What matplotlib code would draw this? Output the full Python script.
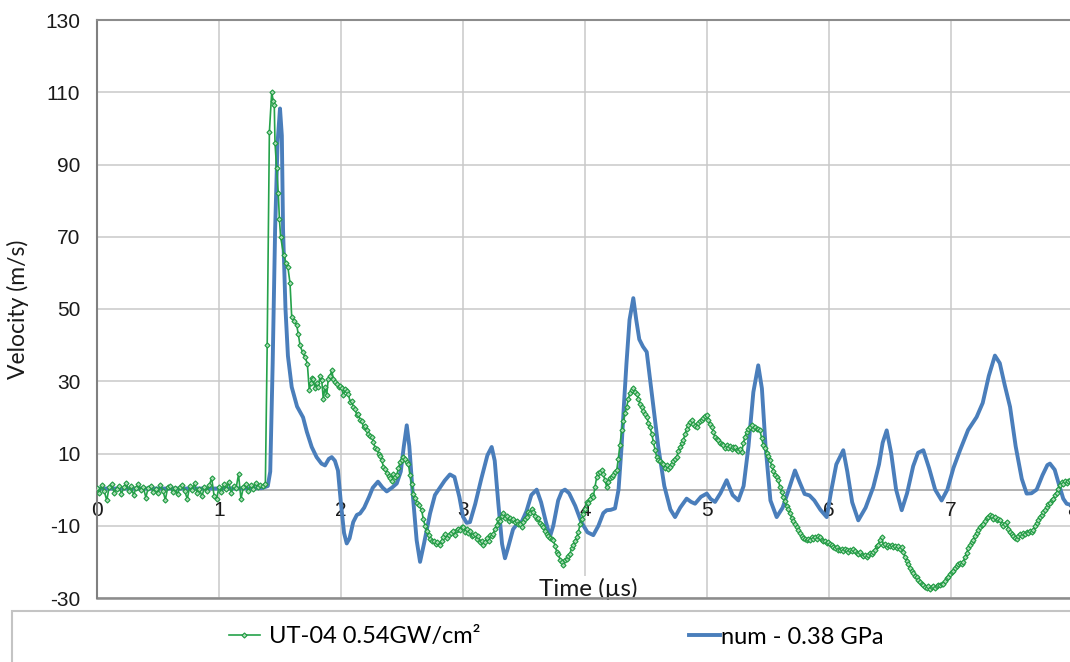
import matplotlib.pyplot as plt
from matplotlib.patches import Rectangle
from matplotlib.lines import Line2D

# experiment UT-04 (green, dense markers)
green_t = [0.00, 0.02, 0.04, 0.06, 0.08, 0.10, 0.12, 0.14, 0.16, 0.18, 0.20, 0.22, 0.24, 0.26, 0.28, 0.30,
           0.32, 0.34, 0.36, 0.38, 0.40, 0.42, 0.44, 0.46, 0.48, 0.50, 0.52, 0.54, 0.56, 0.58, 0.60, 0.62,
           0.64, 0.66, 0.68, 0.70, 0.72, 0.74, 0.76, 0.78, 0.80, 0.82, 0.84, 0.86, 0.88, 0.90, 0.92, 0.94,
           0.96, 0.98, 1.00, 1.02, 1.04, 1.06, 1.08, 1.10, 1.12, 1.14, 1.16, 1.18, 1.20, 1.22, 1.24, 1.26,
           1.28, 1.30, 1.32, 1.34, 1.36, 1.38,
           1.395, 1.413, 1.432, 1.445, 1.453, 1.459, 1.472, 1.486, 1.495, 1.505, 1.53, 1.549, 1.565, 1.582,
           1.596, 1.615, 1.637, 1.65, 1.664, 1.685, 1.705, 1.724, 1.74, 1.752, 1.763, 1.773, 1.785, 1.80,
           1.814, 1.828, 1.842, 1.855, 1.868, 1.883, 1.895, 1.91, 1.924, 1.938, 1.951, 1.965, 1.98, 1.995,
           2.006, 2.02, 2.035, 2.048, 2.06, 2.075, 2.088, 2.10, 2.115, 2.13, 2.143, 2.156, 2.17, 2.185,
           2.20, 2.21, 2.225, 2.24, 2.253, 2.265, 2.28, 2.295, 2.31, 2.322, 2.333, 2.348, 2.362, 2.375,
           2.39, 2.402, 2.415, 2.43, 2.445, 2.457, 2.47, 2.485, 2.498, 2.511, 2.525, 2.54, 2.552, 2.565,
           2.578, 2.593, 2.61, 2.625, 2.64, 2.661, 2.675, 2.69, 2.705, 2.718, 2.73, 2.745, 2.76, 2.775,
           2.79, 2.811, 2.826, 2.84, 2.855, 2.87, 2.885, 2.90, 2.915, 2.932, 2.948, 2.962, 2.975, 2.99,
           3.003, 3.018, 3.032, 3.045, 3.058, 3.071, 3.084, 3.10, 3.112, 3.125, 3.14, 3.153, 3.166, 3.18,
           3.195, 3.21, 3.225, 3.235, 3.248, 3.262, 3.276, 3.29, 3.305, 3.318, 3.33, 3.345, 3.36, 3.373,
           3.386, 3.40, 3.412, 3.426, 3.44, 3.453, 3.466, 3.48, 3.495, 3.508, 3.522, 3.536, 3.55, 3.563,
           3.576, 3.59, 3.603, 3.617, 3.63, 3.645, 3.658, 3.672, 3.686, 3.70, 3.713, 3.727, 3.74, 3.755,
           3.768, 3.782, 3.795, 3.808, 3.822, 3.836, 3.85, 3.863, 3.877, 3.89, 3.904, 3.918, 3.932, 3.945,
           3.96, 3.973, 3.986, 4.00, 4.014, 4.028, 4.041, 4.055, 4.068, 4.082, 4.096, 4.11, 4.123, 4.137,
           4.15, 4.164, 4.178, 4.19, 4.205, 4.219, 4.232, 4.246, 4.26, 4.273, 4.287, 4.301, 4.315, 4.328,
           4.342, 4.355, 4.37, 4.383, 4.397, 4.41, 4.424, 4.438, 4.452, 4.465, 4.479, 4.492, 4.506, 4.52,
           4.533, 4.547, 4.56, 4.574, 4.588, 4.602, 4.615, 4.628, 4.642, 4.656, 4.67, 4.683, 4.697, 4.71,
           4.724, 4.737, 4.751, 4.765, 4.779, 4.792, 4.806, 4.82, 4.833, 4.847, 4.861, 4.875, 4.888, 4.902,
           4.915, 4.929, 4.943, 4.957, 4.97, 4.984, 4.998, 5.012, 5.025, 5.039, 5.052, 5.066, 5.08, 5.093,
           5.107, 5.12, 5.134, 5.148, 5.161, 5.175, 5.189, 5.203, 5.216, 5.23, 5.243, 5.257, 5.27, 5.284,
           5.298, 5.311, 5.325, 5.338, 5.352, 5.366, 5.38, 5.393, 5.407, 5.42, 5.434, 5.448, 5.461, 5.475,
           5.489, 5.502, 5.516, 5.53, 5.543, 5.557, 5.57, 5.584, 5.598, 5.612, 5.625, 5.639, 5.653, 5.666,
           5.68, 5.694, 5.707, 5.721, 5.735, 5.749, 5.762, 5.776, 5.79, 5.803, 5.817, 5.831, 5.844, 5.858,
           5.872, 5.885, 5.899, 5.912, 5.926, 5.94, 5.953, 5.967, 5.981, 5.994, 6.008, 6.022, 6.035, 6.049,
           6.062, 6.076, 6.09, 6.104, 6.117, 6.131, 6.145, 6.158, 6.172, 6.185, 6.199, 6.213, 6.226, 6.24,
           6.254, 6.268, 6.281, 6.295, 6.309, 6.322, 6.336, 6.35, 6.363, 6.377, 6.39, 6.404, 6.418, 6.432,
           6.446, 6.46, 6.473, 6.487, 6.50, 6.514, 6.528, 6.541, 6.555, 6.568, 6.582, 6.596, 6.61, 6.623,
           6.637, 6.65, 6.664, 6.678, 6.692, 6.705, 6.719, 6.733, 6.746, 6.76, 6.774, 6.787, 6.801, 6.815,
           6.828, 6.842, 6.855, 6.869, 6.883, 6.896, 6.91, 6.924, 6.937, 6.951, 6.965, 6.978, 6.992, 7.005,
           7.019, 7.033, 7.046, 7.06, 7.074, 7.087, 7.101, 7.115, 7.128, 7.142, 7.156, 7.169, 7.183, 7.197,
           7.21, 7.224, 7.238, 7.251, 7.265, 7.279, 7.292, 7.306, 7.32, 7.333, 7.347, 7.36, 7.374, 7.388,
           7.402, 7.415, 7.429, 7.443, 7.457, 7.47, 7.484, 7.497, 7.511, 7.525, 7.539, 7.552, 7.566, 7.58,
           7.593, 7.607, 7.62, 7.634, 7.648, 7.661, 7.675, 7.689, 7.702, 7.716, 7.73, 7.743, 7.757, 7.77,
           7.784, 7.798, 7.811, 7.825, 7.839, 7.852, 7.866, 7.88, 7.893, 7.907, 7.92, 7.934, 7.948, 7.962,
           7.975, 7.99]
green_v = [0.5, -1.0, 1.2, -0.5, -3.0, 0.8, 1.5, -0.8, 0.3, 1.0, -1.2, 0.6, 1.8, -0.4, 0.9, -1.5,
           0.4, 1.6, -0.2, 0.7, -2.2, 0.5, 1.1, -0.6, 0.2, -0.9, 1.3, -0.3, -2.8, 0.6, 1.0, -0.7,
           0.4, -1.3, 0.8, 1.4, -0.5, -2.6, 0.9, -0.2, 1.7, -0.8, 0.3, -1.9, 0.6, -0.4, 1.2, 3.2,
           -1.8, -2.5, 0.7, -0.6, 1.5, 0.2, 2.0, -0.9, 1.1, 0.4, 4.2, -2.6, 0.8, 1.6, -0.5, 1.2,
           0.3, 1.9, 0.6, 1.4, 0.9, 1.5,
           40, 99, 110, 107.5, 106.5, 96, 89, 82, 75, 70, 65, 62.8, 61.5, 57.2,
           47.8, 46.8, 45.5, 43, 40, 38, 36.7, 34.9, 27.5, 29.5, 31, 30.7, 28.2, 29.4,
           28.4, 31.5, 30.3, 25, 28.3, 26.1, 30.5, 31.4, 33.0, 30.5, 29.8, 29.2, 28.4, 28.8,
           28, 26.2, 27.9, 27.2, 26.6, 24.2, 24.5, 22.9, 22.2, 20.6, 21, 19.2, 18.9, 17.2,
           17.5, 16.4, 15.4, 14.8, 14.6, 13.2, 11.5, 11.2, 9.8, 9.2, 8.1, 6.4, 5.8, 4.7,
           3.8, 3.1, 2.5, 4.3, 3.6, 4, 5.9, 7.6, 8.2, 9.0, 8.4, 7.6, 7.2, 4.1,
           1.6, -1.1, -2.4, -3.6, -4.3, -5.7, -8.2, -10.1, -11.4, -12.6, -13.6, -14.2, -14.1, -15.0,
           -14.6, -15.4, -14.2, -13.1, -12.4, -13.5, -12.6, -12.1, -11.4, -12.5, -11.3, -10.8, -11.2, -10.4,
           -10.3, -11.6, -10.8, -11.9, -11.5, -12.9, -12.6, -12.2, -13.6, -12.8, -14.5, -14.1, -15.4, -14.6,
           -13.4, -14.1, -12.6, -12.9, -12.2, -10.8, -9.7, -8.1, -8.8, -7.2, -6.6, -7.8, -7.3, -8.6,
           -7.9, -8.4, -8.0, -9.1, -8.7, -9.6, -9.4, -10.3, -9.1, -8.2, -7.6, -6.1, -6.6, -5.3,
           -6.2, -7.4, -8.1, -7.8, -9.2, -9.7, -10.3, -11.4, -12.2, -12.8, -13.3, -13.6, -14, -15.6,
           -17.2, -17.8, -19.4, -20.1, -21, -19.6, -19.1, -18.3, -17.7, -16.2, -15.4, -14.1, -13.2, -11.7,
           -9.6, -8.1, -6.8, -5.4, -3.4, -3.8, -2.6, -1.4, -2.0, 0.8, 3.5, 4.6, 4.9, 5.3,
           4.2, 2.6, 0.7, 2.2, 3.2, 3.5, 4.1, 4.8, 5.3, 8.6, 12.4, 16.4, 19.1, 21.2,
           22.9, 25.2, 26.8, 27.5, 28.0, 27.1, 26.6, 25.1, 23.8, 22.9, 21.8, 20.9, 20.1, 18.4,
           17.2, 15.5, 13.2, 11.1, 9.0, 8.3, 7.9, 7.4, 7.2, 6.1, 6.8, 5.7, 6.3, 7.1,
           7.8, 8.4, 9, 10.6, 11.9, 12.8, 13.7, 15.4, 16.8, 17.9, 18.7, 19.2, 18.1, 17.6,
           17.3, 18.4, 18.9, 19.3, 19.8, 20.3, 20.6, 19.4, 18.2, 17.4, 15.9, 14.6, 14.1, 13.6,
           12.9, 12.6, 12.3, 11.6, 12.3, 11.4, 12.1, 11.2, 11.9, 11.8, 11.1, 10.7, 11.3, 10.4,
           12.8, 14.6, 15.9, 16.8, 17.4, 17.8, 16.9, 17.3, 16.7, 16.9, 16.4, 14.2, 12.4, 11.6,
           10.2, 9.3, 8.1, 6.6, 5.2, 4.1, 3.4, 2.6, 0.7, -0.6, -2.1, -3.2, -4.6, -5.3,
           -6.6, -7.8, -8.7, -9.5, -10.3, -11.2, -12.1, -12.8, -13.3, -13.8, -14, -13.6, -13.9, -13.2,
           -13.7, -13.0, -13.6, -12.8, -13.1, -13.9, -14.3, -14.1, -14.7, -14.5, -15, -15.4, -15.9, -16.2,
           -16.0, -16.6, -16.8, -16.4, -16.9, -16.3, -16.7, -17.2, -16.6, -16.9, -16.3, -17.1, -17.5, -17.8,
           -17.4, -18.1, -18.4, -18.2, -18.7, -18.0, -17.6, -17.9, -17.3, -16.8, -15.6, -15.2, -13.9, -13.1,
           -15.4, -15.1, -15.9, -15.3, -15.7, -15.2, -15.8, -15.5, -16.1, -15.6, -16.3, -15.9, -17.4, -18.6,
           -19.8, -20.5, -21.6, -22.4, -23.1, -23.8, -24.2, -25.1, -25.6, -26.2, -26.5, -26.9, -27.1, -26.8,
           -27.4, -27.0, -26.6, -27.1, -26.7, -26.3, -26.4, -26.1, -26, -25.2, -24.6, -24.1, -23.4, -22.9,
           -22.4, -21.8, -21.1, -20.7, -20.4, -20.6, -20, -18.6, -17.5, -16.2, -15.3, -14.6, -14, -12.8,
           -11.9, -11.2, -10.4, -9.9, -9.4, -8.6, -7.8, -7.6, -7.1, -7.4, -8.2, -7.7, -8.4, -8.1,
           -8.5, -9.6, -10.2, -9.5, -9, -10.8, -11.6, -12.4, -12.9, -13.3, -13.6, -12.9, -12.4, -12.7,
           -11.9, -12.2, -11.7, -11.9, -11.4, -11.6, -11.3, -10.1, -9.2, -8.4, -7.6, -6.9, -6.2, -5.6,
           -4.9, -4.1, -3.6, -3.0, -2.5, -1.6, -0.8, 0.3, 1.2, 2.1, 1.6, 2.4, 1.9, 2.5,
           2.6, 2.2]

# simulation (blue)
num_t = [0, 0.5, 1.0, 1.35, 1.40, 1.42, 1.44, 1.46, 1.48, 1.50, 1.515, 1.525, 1.545, 1.565, 1.596,
         1.64, 1.689, 1.72, 1.76, 1.80, 1.84, 1.869, 1.90, 1.924, 1.95, 1.975, 2.00, 2.025, 2.047,
         2.07, 2.10, 2.13, 2.156, 2.19, 2.23, 2.26, 2.303, 2.34, 2.375, 2.42, 2.457, 2.49, 2.515,
         2.539, 2.56, 2.59, 2.62, 2.648, 2.68, 2.73, 2.77, 2.81, 2.85, 2.893, 2.93, 2.97, 3.00,
         3.03, 3.057, 3.10, 3.15, 3.20, 3.235, 3.26, 3.29, 3.32, 3.344, 3.37, 3.41, 3.45, 3.48,
         3.52, 3.56, 3.604, 3.64, 3.68, 3.713, 3.74, 3.78, 3.81, 3.836, 3.87, 3.92, 3.97, 4.02,
         4.068, 4.11, 4.15, 4.178, 4.21, 4.246, 4.275, 4.30, 4.32, 4.34, 4.365, 4.396, 4.42, 4.445,
         4.475, 4.506, 4.55, 4.60, 4.65, 4.70, 4.738, 4.78, 4.833, 4.87, 4.902, 4.95, 4.998, 5.03,
         5.066, 5.11, 5.161, 5.21, 5.257, 5.30, 5.34, 5.38, 5.42, 5.45, 5.48, 5.52, 5.571, 5.62,
         5.67, 5.721, 5.76, 5.80, 5.84, 5.88, 5.93, 5.981, 6.02, 6.06, 6.117, 6.15, 6.19, 6.24,
         6.30, 6.363, 6.41, 6.44, 6.473, 6.51, 6.55, 6.596, 6.64, 6.69, 6.73, 6.773, 6.82, 6.87,
         6.923, 6.97, 7.02, 7.074, 7.14, 7.21, 7.26, 7.31, 7.36, 7.40, 7.44, 7.484, 7.53, 7.58,
         7.62, 7.66, 7.702, 7.75, 7.79, 7.811, 7.85, 7.88, 7.92, 7.948, 7.99]
num_v = [0.3, 0.3, 0.3, 0.4, 1.0, 5, 35, 72, 96, 105.5, 98, 72, 50, 37, 28.4,
         23, 20, 16, 11.8, 9, 7.2, 6.7, 8.5, 9.0, 8, 5.3, -4, -12, -14.9,
         -13.5, -9, -7, -6.6, -5, -2, 0.5, 2.2, 0.6, -0.5, 0.6, 1.7, 5, 12,
         17.8, 12, -2, -14, -20, -15, -6.6, -1.5, 0.5, 2.5, 4.2, 3.5, -2, -7.5,
         -9.2, -9.0, -4, 3, 9.5, 11.8, 8, -4, -15, -19, -16, -11, -9.2, -9,
         -6, -1.5, 0, -3.5, -9, -13, -10, -3, -0.5, 0, -1, -4.5, -9, -11.8,
         -12.6, -10, -6.5, -5.7, -5.6, -5.2, 0, 12, 24, 35, 47, 53, 47, 41.6,
         39.6, 38.1, 26, 12, 1, -5.5, -7.6, -5, -2.5, -3.4, -3.9, -2, -1.1, -2.6,
         -3.4, -1, 2.6, -1.5, -3.0, 1, 12, 27, 34.4, 28, 12, -3, -7.6, -5,
         0, 5.3, 2, -1.2, -1.6, -3, -5.6, -7.6, 0, 7, 10.9, 5, -3.5, -8.5,
         -5, 0.7, 7, 13, 16.4, 10, 0, -5.7, -1, 6.5, 10.2, 10.9, 6, 0,
         -3.0, 0, 6, 10.9, 16.5, 20.1, 24, 31.5, 37.1, 35, 29, 22.9, 12, 3,
         -1.1, -1.0, 0, 4, 6.8, 7.2, 5.5, 2, -2.5, -3.9, -4.3]

x_ticks = list(range(0, 9))
y_ticks = list(range(-30, 131, 20))
green_label = "UT-04 0.54GW/cm²"
blue_label = "num - 0.38 GPa"

soft = ["Lato", "DejaVu Sans"]
plt.rcParams["font.family"] = ["Liberation Sans", "DejaVu Sans"]
plt.rcParams["axes.unicode_minus"] = False

fig = plt.figure(figsize=(10.7, 6.62), dpi=100)
ax = fig.add_axes([97 / 1070, 1 - 598 / 662, 976 / 1070, 578 / 662])

blue_c = "#4a7ebb"
green_c = "#25a24a"

ax.plot(num_t, num_v, color=blue_c, lw=2.8, zorder=3, solid_joinstyle="round")
ax.plot(green_t, green_v, color=green_c, lw=1.2, marker="D", ms=2.6,
        mfc="#a8dcb4", mec="#1f9a42", mew=0.8, zorder=4)

ax.set_xlim(0, 8)
ax.set_ylim(-30, 130)
ax.set_xticks(x_ticks)
ax.set_yticks(y_ticks)
ax.grid(True, color="#c9c9c9", lw=1.1, zorder=0)
ax.set_axisbelow(True)

# x axis crosses at 0, frame bottom at -30
ax.spines["bottom"].set_position(("data", 0))
ax.spines["bottom"].set_color("#a6a6a6")
ax.spines["bottom"].set_linewidth(1.2)
ax.spines["left"].set_color("#808080")
ax.spines["left"].set_linewidth(1.5)
ax.spines["top"].set_color("#8c8c8c")
ax.spines["top"].set_linewidth(1.5)
ax.spines["right"].set_visible(False)
ax.axhline(-30, color="#8c8c8c", lw=1.8, clip_on=False, zorder=1)

ax.tick_params(axis="both", length=0, labelsize=15, colors="#1a1a1a")
ax.tick_params(axis="y", pad=12)
ax.tick_params(axis="x", pad=8)

ax.set_ylabel("Velocity (m/s)", fontsize=16.5, family=soft, color="#1a1a1a")
ax.yaxis.set_label_coords(-0.081, 0.5)
ax.yaxis.label.set_verticalalignment("center")

ax.set_xlabel("Time (µs)", fontsize=17.5, family=soft, color="#1a1a1a")
ax.xaxis.set_label_coords(0.503, 0.016)
ax.xaxis.label.set_verticalalignment("center")
ax.xaxis.label.set_bbox(dict(facecolor="white", edgecolor="none", pad=1))
ax.xaxis.label.set_zorder(5)

# legend box running off the figure edge
fig.patches.append(Rectangle((12 / 1070, -0.05), 1.1, 1 - 611 / 662 + 0.05,
                             transform=fig.transFigure, facecolor="white",
                             edgecolor="#c4c4c4", lw=1.5))
g_handle = Line2D([], [], color=green_c, lw=1.2, marker="D", ms=2.6,
                  mfc="#a8dcb4", mec="#1f9a42", mew=0.8)
b_handle = Line2D([], [], color=blue_c, lw=2.8)
ly = 1 - 637 / 662
fig.legend(handles=[g_handle], labels=[green_label], loc="center left",
           bbox_to_anchor=(217 / 1070, ly), frameon=False, borderpad=0,
           handlelength=1.3, handletextpad=0.4, prop=dict(family=soft, size=17))
fig.legend(handles=[b_handle], labels=[blue_label], loc="center left",
           bbox_to_anchor=(677 / 1070, ly), frameon=False, borderpad=0,
           handlelength=1.3, handletextpad=0.05, prop=dict(family=soft, size=17))

fig.savefig("out.png", dpi=100)
